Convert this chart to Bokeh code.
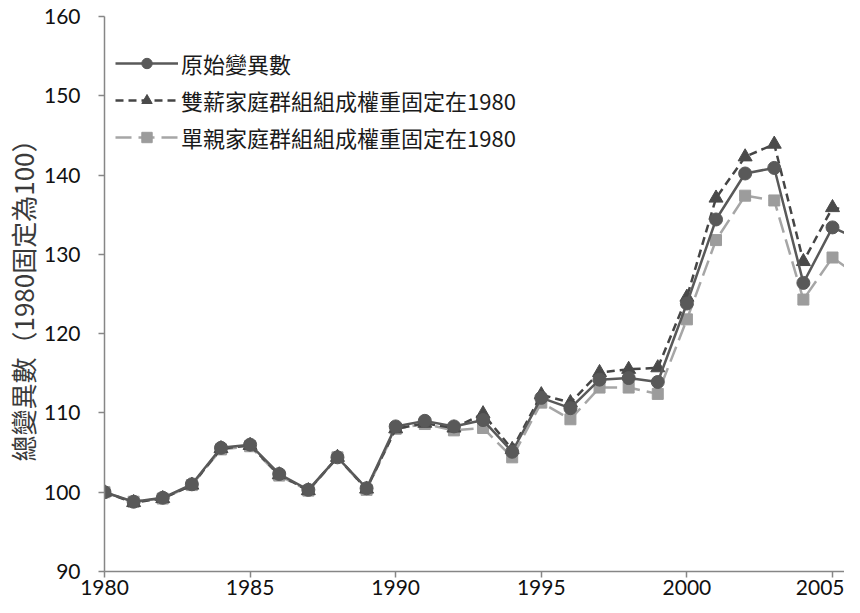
from bokeh.plotting import figure
from bokeh.models import Range1d, FixedTicker, Legend, LegendItem, ColumnDataSource
from bokeh.embed import file_html
from bokeh.resources import INLINE

years = list(range(1980, 2007))
original = [100, 98.8, 99.3, 101.0, 105.6, 106.0, 102.3, 100.3, 104.4, 100.5,
            108.3, 109.0, 108.3, 109.1, 105.1, 111.9, 110.6, 114.2, 114.4, 113.9,
            123.8, 134.4, 140.2, 140.9, 126.4, 133.4, 131.7]
dual_fixed = [100, 98.7, 99.2, 100.9, 105.5, 105.9, 102.2, 100.2, 104.4, 100.4,
              108.0, 108.7, 108.1, 109.9, 105.4, 112.3, 111.3, 115.1, 115.5, 115.7,
              124.6, 137.1, 142.3, 143.9, 129.1, 135.9, 135.3]
single_fixed = [100, 98.8, 99.2, 100.9, 105.4, 105.8, 102.1, 100.2, 104.4, 100.3,
                108.0, 108.6, 107.8, 108.1, 104.4, 111.3, 109.2, 113.2, 113.2, 112.4,
                121.8, 131.8, 137.4, 136.8, 124.3, 129.6, 127.0]
names = ["原始變異數", "雙薪家庭群組組成權重固定在1980", "單親家庭群組組成權重固定在1980"]
x_ticks = [1980, 1985, 1990, 1995, 2000, 2005]
y_ticks = [90, 100, 110, 120, 130, 140, 150, 160]
y_title = "總變異數（1980固定為100）"

src = ColumnDataSource(dict(year=years, orig=original, dual=dual_fixed, single=single_fixed))

W, H = 844, 597
LEFT, TOP, BOTTOM = 104, 16, 25
frame_w = W - LEFT
p = figure(width=W, height=H, output_backend="svg", toolbar_location=None,
           x_range=Range1d(1980, 1980 + frame_w / 29.12), y_range=Range1d(90, 160),
           min_border_left=LEFT, min_border_right=0, min_border_top=TOP, min_border_bottom=BOTTOM)
p.outline_line_color = None
p.xgrid.visible = False
p.ygrid.visible = False
p.background_fill_color = "white"

CJK = "Noto Sans CJK TC"
NUM = "Lato"

for ax in (p.xaxis[0], p.yaxis[0]):
    ax.axis_line_color = "#868686"
    ax.axis_line_width = 1.5
    ax.major_tick_line_color = "#868686"
    ax.major_tick_line_width = 1.5
    ax.minor_tick_line_color = None
    ax.major_label_text_font = NUM
    ax.major_label_text_font_size = "21px"
    ax.major_label_text_color = "#111111"
    ax.major_tick_in = 0
    ax.major_tick_out = 6

p.xaxis[0].ticker = FixedTicker(ticks=x_ticks)
p.yaxis[0].ticker = FixedTicker(ticks=y_ticks)
p.xaxis[0].major_label_standoff = 2
p.yaxis[0].major_label_standoff = 18
p.yaxis[0].axis_label = y_title
p.yaxis[0].axis_label_text_font = CJK
p.yaxis[0].axis_label_text_font_size = "26px"
p.yaxis[0].axis_label_text_font_style = "normal"
p.yaxis[0].axis_label_text_color = "#3a3a3a"
p.yaxis[0].axis_label_standoff = 0

# single-parent (light grey, long dash, squares)
l3 = p.line("year", "single", source=src, line_color="#a6a6a6", line_width=2.5, line_dash="16 7")
m3 = p.scatter("year", "single", source=src, marker="square", size=11,
               fill_color="#9c9c9c", line_color="#9c9c9c")
# dual-earner (dark, short dash, triangles)
l2 = p.line("year", "dual", source=src, line_color="#454545", line_width=2.5, line_dash="8 5")
m2 = p.scatter("year", "dual", source=src, marker="triangle", size=14,
               fill_color="#4a4a4a", line_color="#4a4a4a")
# original (solid, circles)
l1 = p.line("year", "orig", source=src, line_color="#595959", line_width=2.5)
m1 = p.scatter("year", "orig", source=src, marker="circle", size=13,
               fill_color="#595959", line_color="#595959")

legend = Legend(items=[LegendItem(label=names[0], renderers=[l1, m1]),
                       LegendItem(label=names[1], renderers=[l2, m2]),
                       LegendItem(label=names[2], renderers=[l3, m3])],
                location=(11, 418), orientation="vertical")
legend.label_text_font = CJK
legend.label_text_font_size = "22px"
legend.label_text_color = "#1a1a1a"
legend.glyph_width = 63
legend.glyph_height = 26
legend.label_height = 26
legend.spacing = 5
legend.padding = 0
legend.margin = 0
legend.label_standoff = 3
legend.border_line_color = None
legend.background_fill_alpha = 0
p.add_layout(legend)

open("out.html", "w").write(file_html(p, INLINE))
